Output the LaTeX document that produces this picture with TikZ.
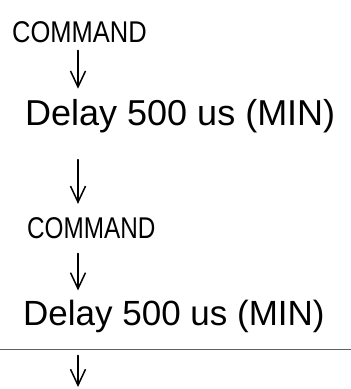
\documentclass[tikz,border=0pt]{standalone}
\usepackage{fontspec}
\setmainfont{Liberation Sans}
\usetikzlibrary{arrows.meta}
\begin{document}
\begin{tikzpicture}[x=1pt,y=-1pt,
  lbl/.style={inner sep=0pt,anchor=base west},
  cmd/.style={lbl,font=\fontsize{30}{34}\selectfont},
  dly/.style={lbl,font=\fontsize{36}{42}\selectfont},
  arr/.style={line width=1.5pt,line cap=round,
    -{Straight Barb[length=16pt,width=15pt,line width=1.5pt]}},
  rule/.style={line width=0.9pt,gray!75!black}]
\useasboundingbox (0,0) rectangle (351,389);
\node[cmd] (c1) at (12,42) {\scalebox{0.85}[1]{COMMAND}};
\node[dly] (d1) at (25,125) {Delay 500 us (MIN)};
\node[cmd] (c2) at (27,238) {\scalebox{0.81}[1]{COMMAND}};
\node[dly,font=\fontsize{35}{40}\selectfont] (d2) at (23,325) {Delay 500 us (MIN)};
\coordinate (ax) at (78,0);
\coordinate (e) at (78,387);
\coordinate (l1) at (0,349);
\coordinate (l2) at (351,349);
\draw[arr,shorten <=8pt,shorten >=10pt] (c1.south -| ax) -- (d1.north -| ax);
\draw[arr,shorten <=27pt,shorten >=13pt] (d1.south -| ax) -- (c2.north -| ax);
\draw[arr,shorten <=15pt,shorten >=9pt] (c2.south -| ax) -- (d2.north -| ax);
\draw[arr,shorten <=23pt] (d2.south -| ax) -- (e);
\draw[rule] (l1) -- (l2);
\end{tikzpicture}
\end{document}
